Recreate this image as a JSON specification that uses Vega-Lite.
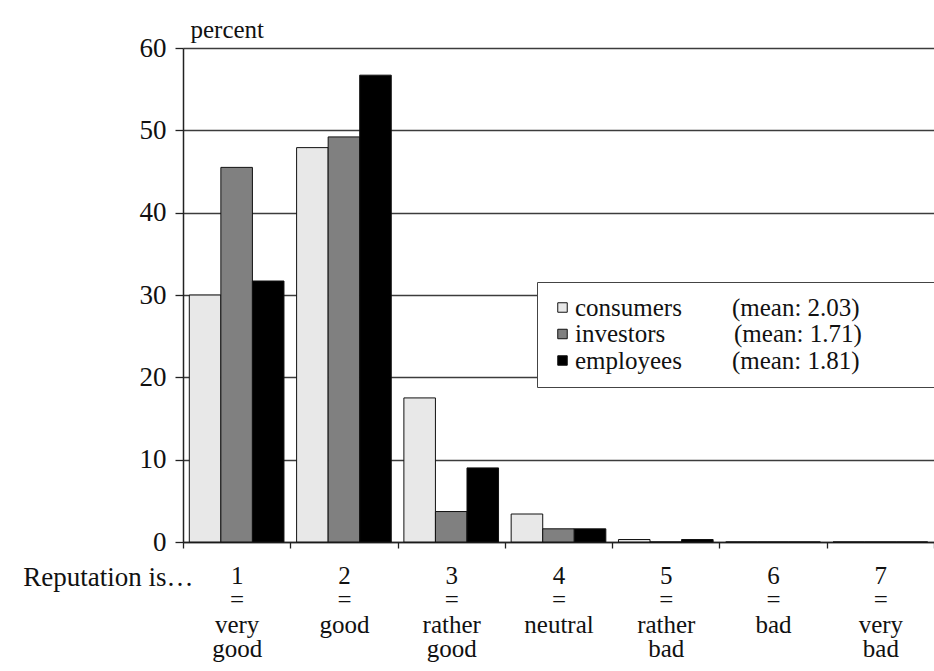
{
  "$schema": "https://vega.github.io/schema/vega-lite/v6.json",
  "width": 751,
  "height": 494,
  "autosize": {"type": "none"},
  "padding": {"left": 183, "top": 48, "right": 0, "bottom": 129},
  "background": "white",
  "config": {"font": "Liberation Serif", "view": {"stroke": null}},
  "data": {
    "values": [
      {"rating": "1|=|very|good", "group": "consumers", "percent": 30.0},
      {"rating": "1|=|very|good", "group": "investors", "percent": 45.5},
      {"rating": "1|=|very|good", "group": "employees", "percent": 31.7},
      {"rating": "2|=|good", "group": "consumers", "percent": 47.9},
      {"rating": "2|=|good", "group": "investors", "percent": 49.2},
      {"rating": "2|=|good", "group": "employees", "percent": 56.7},
      {"rating": "3|=|rather|good", "group": "consumers", "percent": 17.5},
      {"rating": "3|=|rather|good", "group": "investors", "percent": 3.7},
      {"rating": "3|=|rather|good", "group": "employees", "percent": 9.0},
      {"rating": "4|=|neutral", "group": "consumers", "percent": 3.4},
      {"rating": "4|=|neutral", "group": "investors", "percent": 1.6},
      {"rating": "4|=|neutral", "group": "employees", "percent": 1.6},
      {"rating": "5|=|rather|bad", "group": "consumers", "percent": 0.3},
      {"rating": "5|=|rather|bad", "group": "investors", "percent": 0},
      {"rating": "5|=|rather|bad", "group": "employees", "percent": 0.3},
      {"rating": "6|=|bad", "group": "consumers", "percent": 0},
      {"rating": "6|=|bad", "group": "investors", "percent": 0},
      {"rating": "6|=|bad", "group": "employees", "percent": 0},
      {"rating": "7|=|very|bad", "group": "consumers", "percent": 0},
      {"rating": "7|=|very|bad", "group": "investors", "percent": 0},
      {"rating": "7|=|very|bad", "group": "employees", "percent": 0}
    ]
  },
  "mark": {"type": "bar", "stroke": "#111111", "strokeWidth": 1},
  "encoding": {
    "x": {
      "field": "rating",
      "type": "nominal",
      "scale": {
        "domain": ["1|=|very|good", "2|=|good", "3|=|rather|good", "4|=|neutral", "5|=|rather|bad", "6|=|bad", "7|=|very|bad"],
        "paddingInner": 0,
        "paddingOuter": 0
      },
      "axis": {
        "title": "Reputation is…",
        "titleFont": "Liberation Serif",
        "titleX": 10,
        "titleY": 43,
        "titleAlign": "right",
        "titleBaseline": "alphabetic",
        "titleFontSize": 27,
        "titleFontWeight": "normal",
        "titleColor": "#111111",
        "labelFont": "Liberation Serif",
        "labelExpr": "split(datum.label, '|')",
        "labelAngle": 0,
        "labelFontSize": 25,
        "labelLineHeight": 24.5,
        "labelPadding": 15,
        "labelColor": "#111111",
        "labelOverlap": false,
        "labelBound": false,
        "tickSize": 6,
        "tickBand": "extent",
        "tickColor": "#222222",
        "tickWidth": 1.3,
        "domainColor": "#222222",
        "domainWidth": 1.5,
        "grid": false
      }
    },
    "xOffset": {
      "field": "group",
      "type": "nominal",
      "scale": {"domain": ["consumers", "investors", "employees"], "paddingOuter": 0.2, "paddingInner": 0}
    },
    "y": {
      "field": "percent",
      "type": "quantitative",
      "scale": {"domain": [0, 60], "nice": false},
      "axis": {
        "title": "percent",
        "titleFont": "Liberation Serif",
        "labelFont": "Liberation Serif",
        "values": [0, 10, 20, 30, 40, 50, 60],
        "grid": true,
        "gridColor": "#3c3c3c",
        "gridWidth": 1.4,
        "domainColor": "#222222",
        "domainWidth": 1.5,
        "tickColor": "#222222",
        "tickWidth": 1.3,
        "tickSize": 8,
        "labelFontSize": 27,
        "labelColor": "#111111",
        "labelPadding": 9,
        "titleAngle": 0,
        "titleX": 7,
        "titleY": -11,
        "titleAlign": "left",
        "titleBaseline": "alphabetic",
        "titleFontSize": 25,
        "titleFontWeight": "normal",
        "titleColor": "#111111"
      }
    },
    "color": {
      "field": "group",
      "type": "nominal",
      "scale": {"domain": ["consumers", "investors", "employees"], "range": ["#e8e8e8", "#808080", "#000000"]},
      "legend": {
        "title": null,
        "orient": "none",
        "legendX": 354,
        "legendY": 234,
        "padding": 13,
        "fillColor": "white",
        "strokeColor": "#444444",
        "symbolType": "square",
        "symbolSize": 90,
        "symbolStrokeColor": "#111111",
        "symbolStrokeWidth": 1,
        "labelFont": "Liberation Serif",
        "labelFontSize": 25,
        "labelColor": "#111111",
        "labelOffset": 0,
        "labelLimit": 500,
        "rowPadding": 0.5,
        "labelExpr": "datum.label == 'consumers' ? 'consumers\u00a0\u00a0\u00a0\u00a0\u00a0\u00a0\u00a0\u00a0(mean: 2.03)\u00a0\u00a0\u00a0\u00a0\u00a0\u00a0\u00a0\u00a0\u00a0\u00a0\u200b' : datum.label == 'investors' ? 'investors\u00a0\u00a0\u00a0\u00a0\u00a0\u00a0\u00a0\u00a0\u00a0\u00a0\u00a0(mean: 1.71)' : 'employees\u00a0\u00a0\u00a0\u00a0\u00a0\u00a0\u00a0\u00a0(mean: 1.81)'"
      }
    }
  }
}
